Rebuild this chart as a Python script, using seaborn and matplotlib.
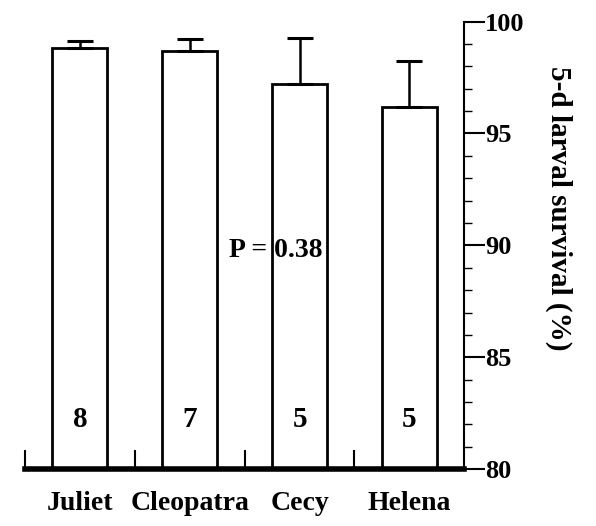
import pandas as pd
import matplotlib
matplotlib.use("Agg")
import matplotlib.pyplot as plt
import seaborn as sns
from matplotlib.ticker import MultipleLocator, FixedLocator

# data
strains = ["Juliet", "Cleopatra", "Cecy", "Helena"]
survival = [98.8, 98.7, 97.2, 96.2]
sem = [0.35, 0.5, 2.05, 2.05]
n_reps = [8, 7, 5, 5]
p_text = "P = 0.38"

sns.set_theme(style="ticks")
plt.rcParams["font.family"] = ["Liberation Serif", "DejaVu Serif"]
plt.rcParams["font.weight"] = "bold"
plt.rcParams["text.color"] = "black"
plt.rcParams["axes.labelcolor"] = "black"
plt.rcParams["axes.edgecolor"] = "black"
plt.rcParams["xtick.color"] = "black"
plt.rcParams["ytick.color"] = "black"

df = pd.DataFrame({"strain": strains, "survival": survival})

fig = plt.figure(figsize=(5.96, 5.26), dpi=100)
ax = fig.add_axes([0.042, 0.108, 0.737, 0.851])

sns.barplot(data=df, x="strain", y="survival", ax=ax, color="white",
            edgecolor="black", linewidth=2, width=0.5, saturation=1)

# one-sided (upper) error bars
ax.errorbar(range(len(strains)), survival, yerr=[[0] * len(sem), sem],
            fmt="none", ecolor="black", elinewidth=1.8, capsize=9.5, capthick=2.2)

for i, n in enumerate(n_reps):
    ax.text(i, 82.2, str(n), ha="center", va="center", fontsize=21, fontweight="bold")

ax.text(1.78, 89.76, p_text, ha="center", va="center", fontsize=20, fontweight="bold")

ax.set_xlim(-0.5, 3.5)
ax.set_ylim(80, 100)

# spines: only right and bottom
ax.spines["left"].set_visible(False)
ax.spines["top"].set_visible(False)
ax.spines["right"].set_visible(True)
ax.spines["right"].set_color("black")
ax.spines["bottom"].set_color("black")
ax.spines["right"].set_linewidth(1.5)
ax.spines["bottom"].set_linewidth(4)

# y axis on the right
ax.yaxis.tick_right()
ax.yaxis.set_label_position("right")
ax.yaxis.set_major_locator(MultipleLocator(5))
ax.yaxis.set_minor_locator(MultipleLocator(1))
ax.tick_params(axis="y", which="major", direction="out", length=15, width=1.5,
               labelsize=19, pad=0, left=False, right=True)
ax.tick_params(axis="y", which="minor", direction="out", length=6, width=1,
               left=False, right=True)
for lab in ax.get_yticklabels():
    lab.set_fontweight("bold")

ax.set_ylabel("5-d larval survival (%)", rotation=270, fontsize=21,
              fontweight="bold", va="center")
ax.yaxis.set_label_coords(1.215, 0.584)
ax.set_xlabel("")

# x axis: category separators as small inward ticks
ax.xaxis.set_minor_locator(FixedLocator([-0.5, 0.5, 1.5, 2.5]))
ax.tick_params(axis="x", which="major", length=0, labelsize=20, pad=16)
ax.tick_params(axis="x", which="minor", direction="in", length=14, width=1.5)
for lab in ax.get_xticklabels():
    lab.set_fontweight("bold")

fig.savefig("out.png", dpi=100)
